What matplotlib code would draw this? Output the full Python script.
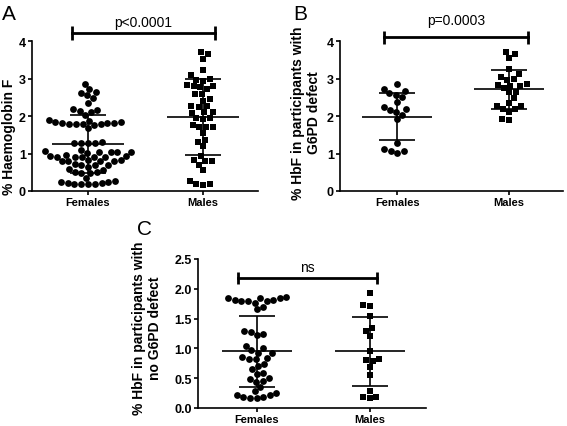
import matplotlib.pyplot as plt
import numpy as np

plt.rcParams['font.family'] = ['Liberation Sans', 'DejaVu Sans']

# scatter (mean +/- SD) of HbF by sex, three panels

#-----------------------------------------------------------------------------

groups = ["Females", "Males"]

# A: all participants
a_fem = [2.85, 2.72, 2.63, 2.62, 2.55, 2.47, 2.35, 2.20, 2.15, 2.14, 2.11, 2.02,
         1.90, 1.87, 1.85, 1.83, 1.82, 1.81, 1.81, 1.80, 1.80, 1.79, 1.78, 1.76, 1.67,
         1.30, 1.29, 1.29, 1.28, 1.28,
         1.10, 1.06, 1.05, 1.04, 1.03, 1.03, 1.02,
         0.96, 0.94, 0.93, 0.92, 0.92, 0.92, 0.91, 0.90,
         0.84, 0.82, 0.80, 0.80, 0.79, 0.79,
         0.72, 0.70, 0.70, 0.69,
         0.65, 0.60, 0.57, 0.52, 0.50, 0.49, 0.48,
         0.35, 0.28, 0.25, 0.22, 0.21, 0.19, 0.18, 0.18, 0.20, 0.23]
a_male = [3.72, 3.66, 3.53, 3.24, 3.09, 2.99, 2.97, 2.94, 2.83, 2.79, 2.79, 2.77,
          2.72, 2.60, 2.59, 2.45, 2.41, 2.26, 2.26, 2.23, 2.12, 2.10, 2.08, 1.96,
          1.94, 1.92, 1.75, 1.71, 1.70, 1.70, 1.54, 1.36, 1.32, 1.19, 0.94, 0.82,
          0.81, 0.79, 0.70, 0.55, 0.27, 0.20, 0.18, 0.17]
a_mean = [1.25, 1.97]
a_sd = [0.77, 1.02]

# B: participants with G6PD defect
b_fem = [2.85, 2.72, 2.67, 2.62, 2.56, 2.50, 2.38, 2.23, 2.18, 2.15, 2.12, 2.03,
         1.91, 1.29, 1.13, 1.07, 1.06, 1.01]
b_male = [3.70, 3.65, 3.54, 3.25, 3.12, 3.05, 3.00, 2.97, 2.85, 2.83, 2.81, 2.79,
          2.74, 2.65, 2.63, 2.47, 2.35, 2.28, 2.28, 2.20, 2.19, 2.10, 1.92, 1.90]
b_mean = [1.98, 2.71]
b_sd = [0.63, 0.51]

# C: participants without G6PD defect
c_fem = [1.87, 1.85, 1.85, 1.84, 1.82, 1.81, 1.80, 1.79, 1.79, 1.77, 1.69, 1.66,
         1.29, 1.28, 1.25, 1.23,
         1.04, 1.00, 0.97, 0.93, 0.93,
         0.85, 0.84, 0.83, 0.82, 0.74, 0.71, 0.65,
         0.59, 0.57, 0.50, 0.48, 0.46, 0.44, 0.35,
         0.28, 0.25, 0.21, 0.21, 0.18, 0.18, 0.17, 0.17]
c_male = [1.93, 1.73, 1.71, 1.54, 1.35, 1.30, 1.20, 0.95, 0.82, 0.80, 0.79, 0.69,
          0.55, 0.28, 0.19, 0.18, 0.16]
c_mean = [0.95, 0.95]
c_sd = [0.59, 0.58]

p_text = ["p<0.0001", "p=0.0003", "ns"]

#-----------------------------------------------------------------------------

W, H = 567, 427
fig = plt.figure(figsize=(W/100, H/100), dpi=100)


def swarm(vals, px_x, px_y, d=6.8):
    # simple beeswarm: lowest values first, each point pushed out to the
    # nearest free slot
    vals = np.asarray(vals)
    order = np.argsort(vals, kind="stable")
    placed = []
    xo = np.zeros(len(vals))
    flip = 1
    for i in order:
        y = vals[i]*px_y
        cands = [0.0]
        for (px, py) in placed:
            dy = abs(y - py)
            if dy < d:
                dx = np.sqrt(d*d - dy*dy)
                cands += [px - dx, px + dx]
        cands = sorted(cands, key=lambda c: (abs(c), -flip*c))
        for c in cands:
            ok = True
            for (px, py) in placed:
                if (c-px)**2 + (y-py)**2 < d*d - 1e-6:
                    ok = False
                    break
            if ok:
                xo[i] = c
                break
        flip = -flip
        placed.append((xo[i], y))
    return xo/px_x


def panel(rect, xlim, ymax, yticks, ylabs, data, means, sds, marks, sig_x,
          sig_y, cap, txt_y, txt):
    ax = fig.add_axes(rect)
    ax.set_xlim(*xlim)
    ax.set_ylim(0, ymax)
    px_x = rect[2]*W/(xlim[1]-xlim[0])
    px_y = rect[3]*H/ymax

    for i, vals in enumerate(data):
        off = swarm(vals, px_x, px_y)
        ax.plot(i + off, vals, ls="none", marker=marks[i], ms=4.9, mew=0,
                color="k", clip_on=False, zorder=3)
        m, s = means[i], sds[i]
        ax.hlines(m, i-0.31, i+0.31, color="k", lw=1.2, zorder=4)
        ax.vlines(i, m-s, m+s, color="k", lw=1.2, zorder=4)
        ax.hlines([m-s, m+s], i-0.16, i+0.16, color="k", lw=1.2, zorder=4)

    # significance bar
    ax.plot(sig_x, [sig_y, sig_y], color="k", lw=2.0, clip_on=False)
    for xx in sig_x:
        ax.plot([xx, xx], [sig_y-cap, sig_y+cap], color="k", lw=2.0,
                clip_on=False, solid_capstyle="butt")
    ax.text(0.5*(sig_x[0]+sig_x[1]), txt_y, txt, ha="center", va="center",
            fontsize=10)

    for sp in ["top", "right"]:
        ax.spines[sp].set_visible(False)
    for sp in ["left", "bottom"]:
        ax.spines[sp].set_linewidth(1.2)
    ax.spines["left"].set_bounds(0, ymax)
    ax.set_xticks([0, 1])
    ax.set_xticklabels(groups, fontsize=8, fontweight="bold")
    ax.set_yticks(yticks)
    ax.set_yticklabels(ylabs, fontsize=9, fontweight="bold")
    ax.tick_params(direction="out", length=3, width=1.2, pad=1.5)
    ax.tick_params(axis="x", pad=1)
    return ax


panel([32/W, 1-192/H, 226/W, 150/H], (-0.487, 1.478), 4, [0, 1, 2, 3, 4],
      ["0", "1", "2", "3", "4"],
      [a_fem, a_male], a_mean, a_sd, ["o", "s"], [-0.14, 1.1], 4.22,
      0.19, 4.52, p_text[0])

panel([340/W, 1-192/H, 223/W, 150/H], (-0.51, 1.48), 4, [0, 1, 2, 3, 4],
      ["0", "1", "2", "3", "4"],
      [b_fem, b_male], b_mean, b_sd, ["o", "s"], [-0.12, 1.17], 4.1,
      0.17, 4.57, p_text[1])

panel([198/W, 1-409/H, 228/W, 149/H], (-0.52, 1.5), 2.5,
      [0, 0.5, 1.0, 1.5, 2.0, 2.5], ["0.0", "0.5", "1.0", "1.5", "2.0", "2.5"],
      [c_fem, c_male], c_mean, c_sd, ["o", "s"], [-0.17, 1.07], 2.18,
      0.1, 2.36, p_text[2])

# axis titles and panel letters
fig.text(9/W, 1-137/H, "% Haemoglobin F", rotation=90, ha="center",
         va="center", fontsize=10, fontweight="bold")
fig.text(306/W, 1-113/H, "% HbF in participants with\nG6PD defect", rotation=90,
         ha="center", va="center", fontsize=10, fontweight="bold",
         multialignment="center", linespacing=1.1)
fig.text(147/W, 1-328/H, "% HbF in participants with\nno G6PD defect",
         rotation=90, ha="center", va="center", fontsize=10, fontweight="bold",
         multialignment="center", linespacing=1.1)

fig.text(2/W, 1-20/H, "A", fontsize=15)
fig.text(293/W, 1-20/H, "B", fontsize=15)
fig.text(137/W, 1-235/H, "C", fontsize=15)

plt.savefig("out.png", dpi=100)
